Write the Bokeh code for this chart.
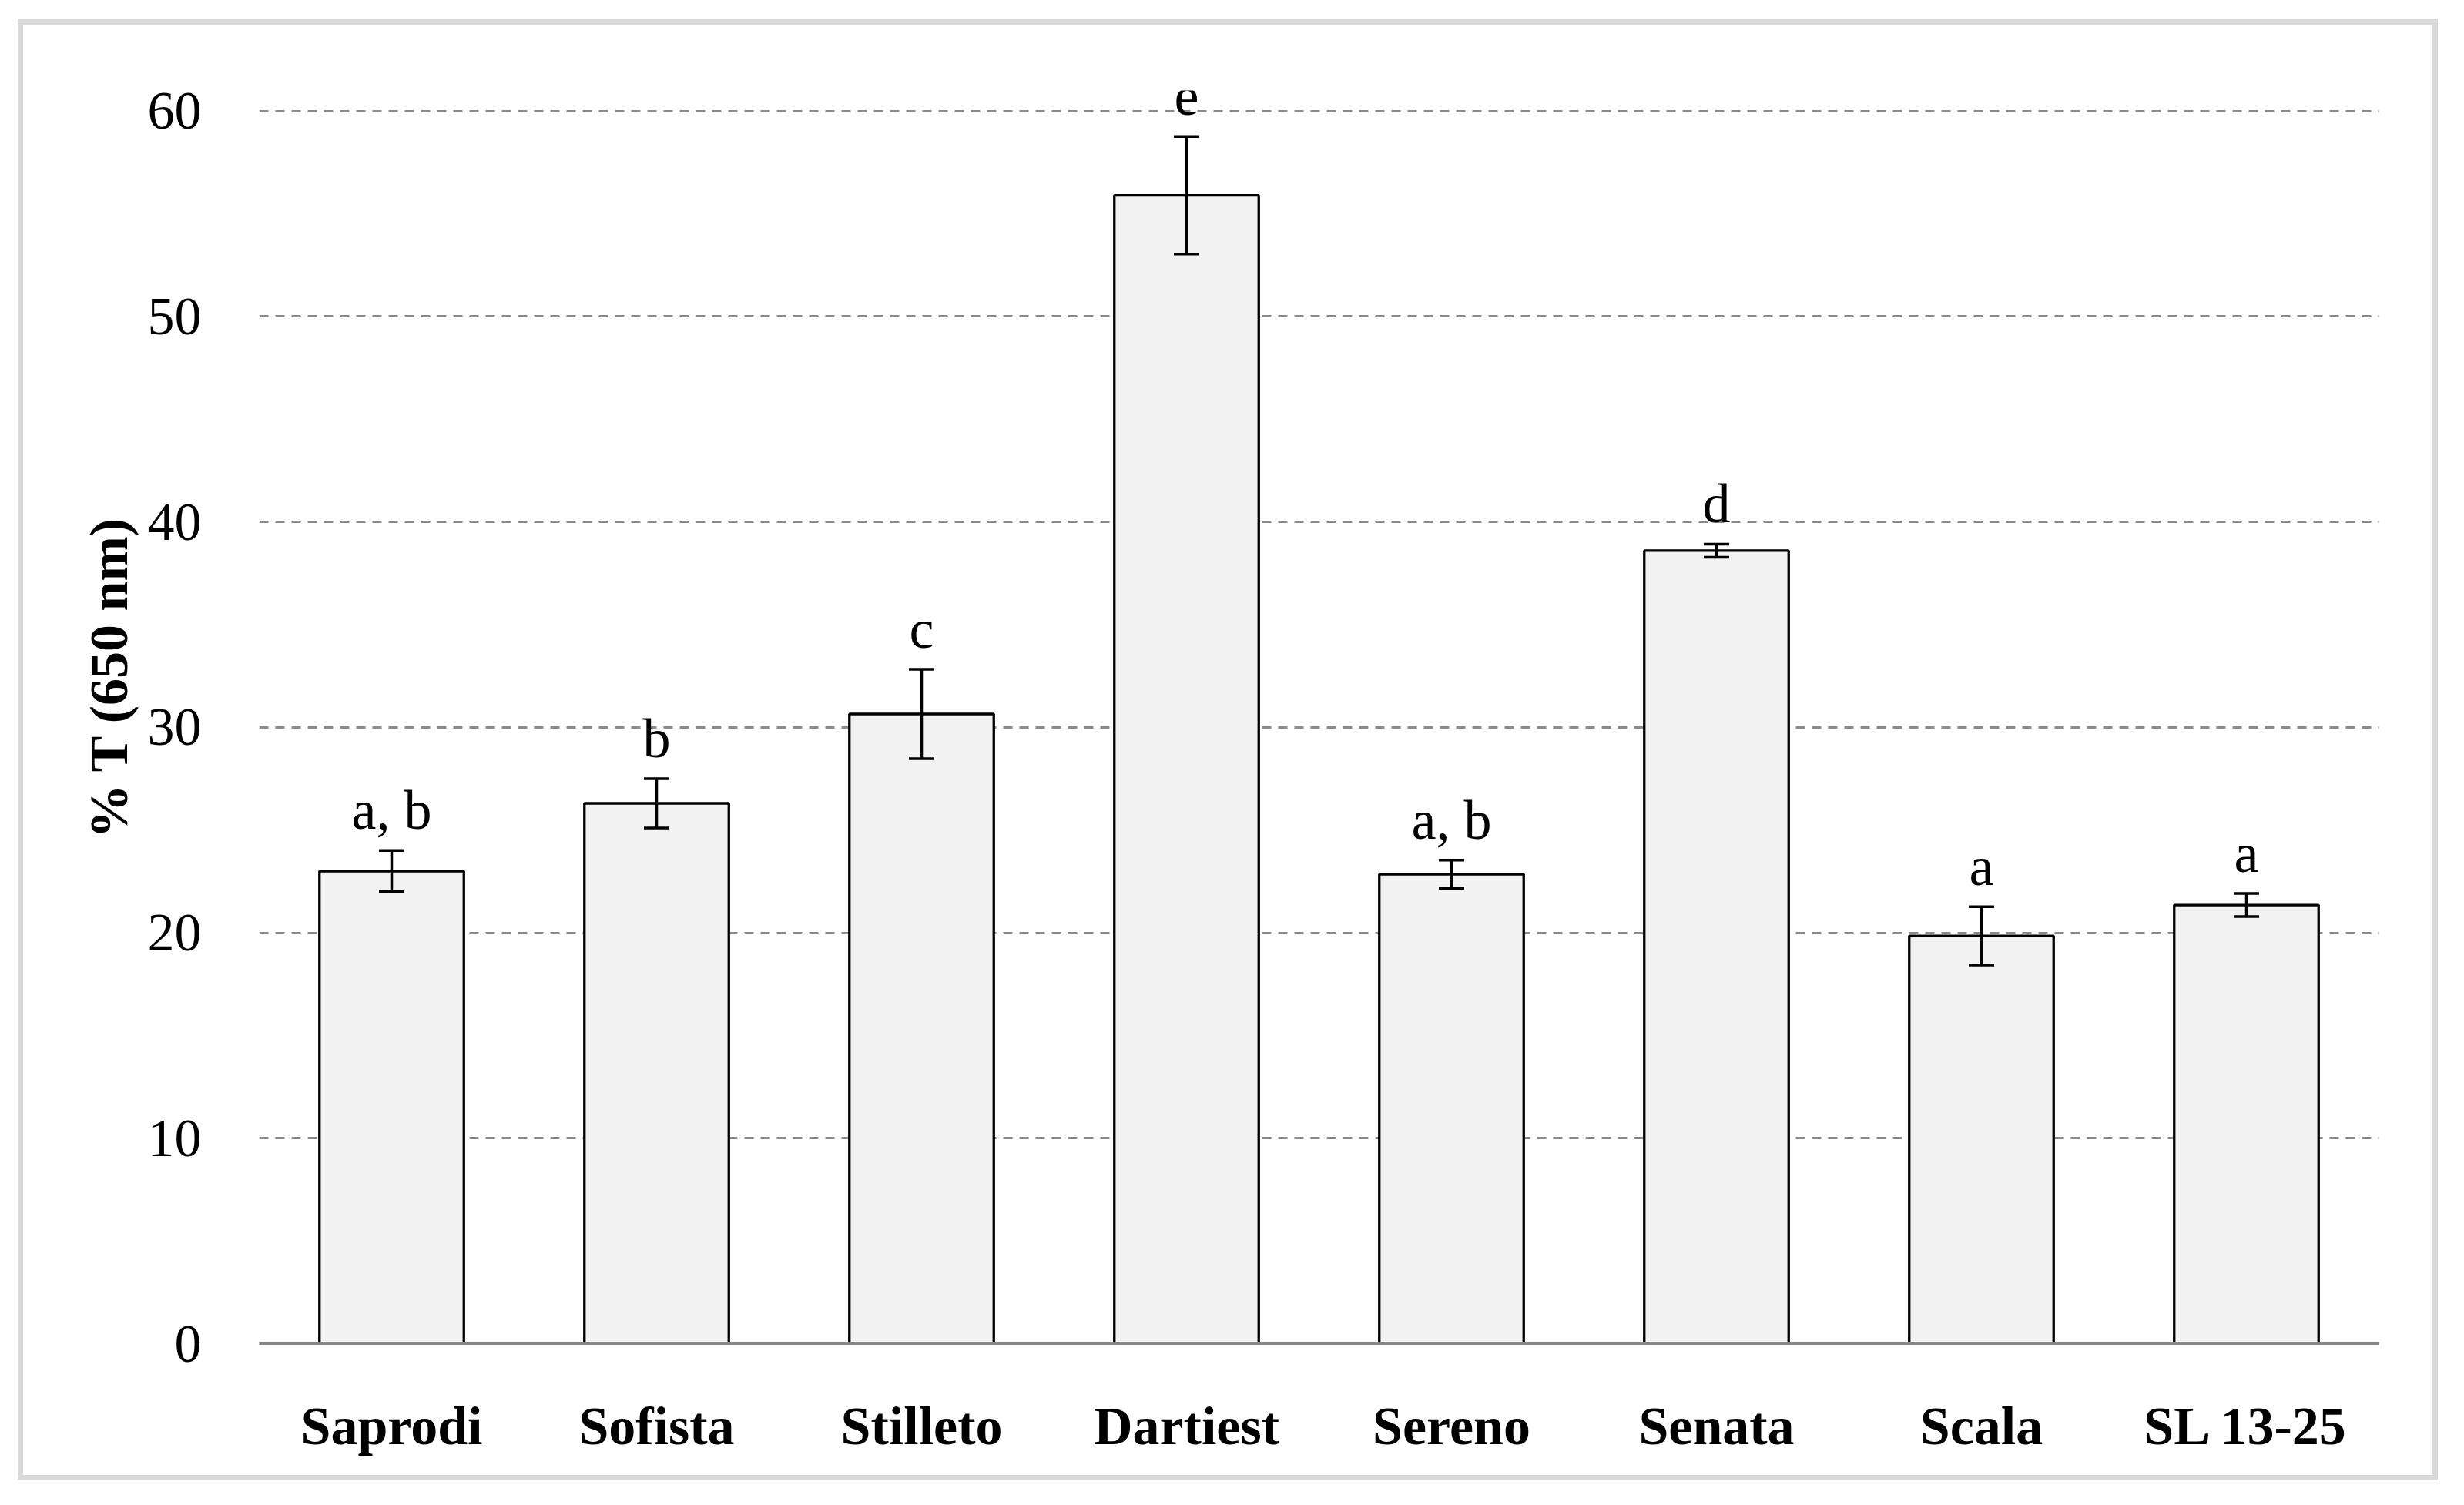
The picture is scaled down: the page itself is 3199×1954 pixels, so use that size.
from bokeh.plotting import figure
from bokeh.models import ColumnDataSource, FixedTicker, Range1d, FactorRange, Whisker, TeeHead, Title
from bokeh.core.properties import value
from bokeh.embed import file_html
from bokeh.resources import INLINE

# ---- data ----
cultivars = ["Saprodi", "Sofista", "Stilleto", "Dartiest", "Sereno", "Senata", "Scala", "SL 13-25"]
transmittance = [23.0, 26.3, 30.65, 55.9, 22.85, 38.6, 19.85, 21.35]
std_error = [1.0, 1.2, 2.17, 2.86, 0.69, 0.32, 1.42, 0.56]
letters = ["a, b", "b", "c", "e", "a, b", "d", "a", "a"]
y_ticks = [0, 10, 20, 30, 40, 50, 60]
y_label = "% T (650 nm)"

upper = [v + e for v, e in zip(transmittance, std_error)]
lower = [v - e for v, e in zip(transmittance, std_error)]

src = ColumnDataSource(dict(x=cultivars, top=transmittance, upper=upper, lower=lower, letters=letters))

SERIF = "Liberation Serif"

p = figure(
    x_range=FactorRange(*cultivars, range_padding=0),
    y_range=Range1d(0, 61),
    width=3128, height=1883,
    output_backend="svg", toolbar_location=None,
    min_border_left=306, min_border_right=70,
    min_border_top=85, min_border_bottom=171,
)
p.margin = (32, 0, 0, 30)
p.styles = {"outline": "7px solid #d9d9d9"}
p.outline_line_color = None
p.background_fill_color = "white"
p.border_fill_color = "white"

# grid
p.xgrid.grid_line_color = None
p.ygrid.grid_line_color = "#8a8a8a"
p.ygrid.grid_line_width = 3
p.ygrid.grid_line_dash = "12 9"
p.yaxis.ticker = FixedTicker(ticks=y_ticks)

# axes
p.yaxis.axis_line_color = None
p.yaxis.major_tick_line_color = None
p.yaxis.minor_tick_line_color = None
p.yaxis.major_label_standoff = 69
p.yaxis.major_label_text_font = SERIF
p.yaxis.major_label_text_font_size = "70px"
p.yaxis.major_label_text_color = "black"

# y-axis title, placed as a left-side title so it can sit where the original has it
p.add_layout(Title(text=y_label, align="left", offset=656,
                   text_font=SERIF, text_font_style="bold", text_font_size="70px",
                   text_color="black", standoff=18), "left")

p.xaxis.axis_line_color = "#868686"
p.xaxis.axis_line_width = 3
p.xaxis.major_tick_line_color = None
p.xaxis.minor_tick_line_color = None
p.xaxis.major_label_standoff = 62
p.xaxis.major_label_text_font = SERIF
p.xaxis.major_label_text_font_style = "bold"
p.xaxis.major_label_text_font_size = "70px"
p.xaxis.major_label_text_color = "black"

# bars
p.vbar(x="x", top="top", width=0.545, source=src,
       fill_color="#f2f2f2", line_color="black", line_width=3.3)

# error bars
w = Whisker(base="x", upper="upper", lower="lower", source=src,
            line_color="black", line_width=3.5, level="overlay",
            upper_head=TeeHead(size=33, line_color="black", line_width=3.5),
            lower_head=TeeHead(size=33, line_color="black", line_width=3.5))
p.add_layout(w)

# significance letters
p.text(x="x", y="upper", text="letters", source=src,
       text_font=value(SERIF), text_font_size="72px", text_color="black",
       text_align="center", text_baseline="alphabetic", y_offset=-52)

open("out.html", "w").write(file_html(p, INLINE))
